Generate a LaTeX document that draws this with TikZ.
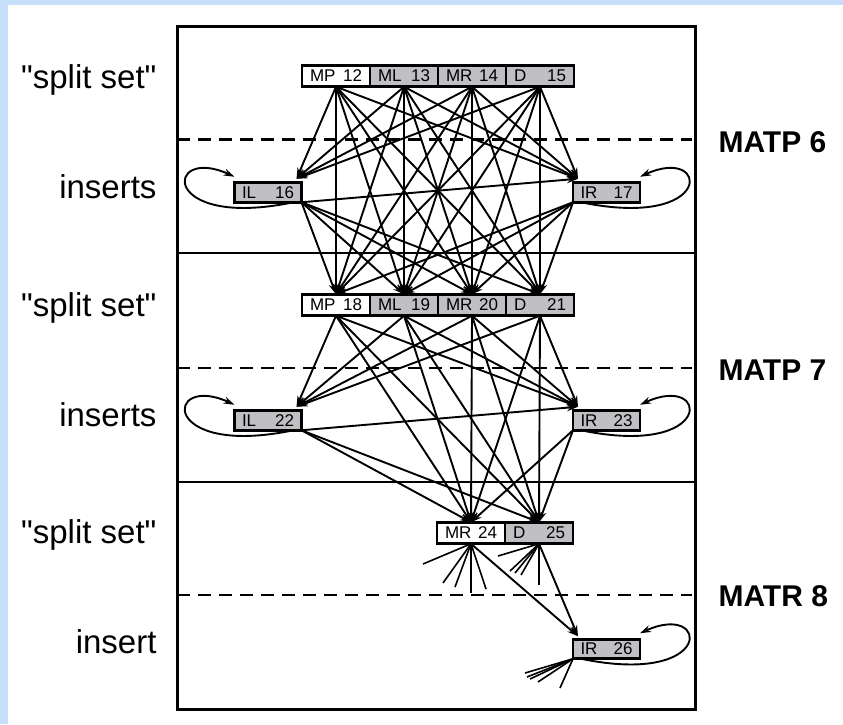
\documentclass[tikz,border=0pt]{standalone}
\usepackage{fontspec}
\setmainfont{Liberation Sans}[Ligatures=TeXOff]
\usetikzlibrary{arrows.meta,positioning}

\definecolor{stategray}{RGB}{192,192,196}
\definecolor{pageblue}{RGB}{198,224,252}

% state name on the left, state number on the right
\newcommand{\stlabel}[2]{\makebox[52pt]{#1\hfill#2}}

\tikzset{
  splitcell/.style={draw,line width=2.8pt,minimum width=68pt,minimum height=21.5pt,
    inner sep=0pt,outer sep=0pt,fill=stategray,font=\fontsize{17}{17}\selectfont},
  inscell/.style={splitcell,minimum width=67pt,minimum height=19.5pt},
  rowlabel/.style={anchor=base east,font=\fontsize{33}{33}\selectfont},
  nodelabel/.style={anchor=base west,font=\bfseries\fontsize{30}{30}\selectfont},
  divider/.style={line width=2.5pt},
  halfline/.style={line width=2.5pt,dash pattern=on 13pt off 8pt},
  selfloop/.style={line width=1.9pt,-{Stealth[length=11pt,width=7pt]}}
}

\begin{document}
\begin{tikzpicture}[x=1pt,y=-1pt]
  \fill[pageblue] (0,0) rectangle (843,724);
  \fill[white] (8,5) rectangle (843,724);
  \useasboundingbox (0,0) rectangle (843,724);

  % frame, node boundaries and split/insert boundaries
  \draw[line width=3pt] (177,26) rectangle (695,709);
  \draw[divider] (177,253) -- (695,253);
  \draw[divider] (177,482) -- (695,482);
  \draw[halfline] (177,139.5) -- (692,139.5);
  \draw[halfline] (177,368) -- (692,368);
  \draw[halfline] (177,595) -- (692,595);

  % row and node labels
  \node[rowlabel] (ss6) at (160,88) {"split set"};
  \node[rowlabel] (in6) at (160,198) {inserts};
  \node[rowlabel] (ss7) at (160,316) {"split set"};
  \node[rowlabel] (in7) at (160,426) {inserts};
  \node[rowlabel] (ss8) at (160,543) {"split set"};
  \node[rowlabel] (in8) at (160,653) {insert};
  \node[nodelabel] (matp6) at (715,152) {MATP 6};
  \node[nodelabel] (matp7) at (715,380) {MATP 7};
  \node[nodelabel] (matr8) at (715,606) {MATR 8};

  % states
  \begin{scope}[every node/.style={splitcell}]
    \node[fill=white] (MP12) at (336,76) {\stlabel{MP}{12}};
    \node[right=0pt of MP12] (ML13) {\stlabel{ML}{13}};
    \node[right=0pt of ML13] (MR14) {\stlabel{MR}{14}};
    \node[right=0pt of MR14] (D15) {\stlabel{D}{15}};

    \node[fill=white] (MP18) at (336,305) {\stlabel{MP}{18}};
    \node[right=0pt of MP18] (ML19) {\stlabel{ML}{19}};
    \node[right=0pt of ML19] (MR20) {\stlabel{MR}{20}};
    \node[right=0pt of MR20] (D21) {\stlabel{D}{21}};

    \node[fill=white] (MR24) at (471,533) {\stlabel{MR}{24}};
    \node[right=0pt of MR24] (D25) {\stlabel{D}{25}};
  \end{scope}

  \begin{scope}[every node/.style={inscell}]
    \node (IL16) at (268,192.5) {\stlabel{IL}{16}};
    \node (IR17) at (606.5,192.5) {\stlabel{IR}{17}};
    \node (IL22) at (268,420.5) {\stlabel{IL}{22}};
    \node (IR23) at (606.5,420.5) {\stlabel{IR}{23}};
    \node (IR26) at (606.5,649) {\stlabel{IR}{26}};
  \end{scope}

  % loose ends towards the next node
  \coordinate (MR24a) at (423,564);
  \coordinate (MR24b) at (443,583);
  \coordinate (MR24c) at (455,587);
  \coordinate (MR24d) at (471,593);
  \coordinate (MR24e) at (486,589);
  \coordinate (D25a) at (498,556);
  \coordinate (D25b) at (510,571);
  \coordinate (D25c) at (515,573);
  \coordinate (D25d) at (521,575);
  \coordinate (D25e) at (539,585);
  \coordinate (IR26a) at (525,673);
  \coordinate (IR26b) at (527,677);
  \coordinate (IR26c) at (530,679);
  \coordinate (IR26d) at (538,682);
  \coordinate (IR26e) at (560,688);

  \begin{scope}[every edge/.style={draw=black,line width=1.9pt}]
    % MATP 6
    \path [-{Stealth[length=11pt,width=7pt]}]
      (MP12.south) edge ([xshift=-5pt,yshift=4pt]IL16.north east)
                   edge ([xshift=5pt,yshift=4pt]IR17.north west)
                   edge (MP18.north) edge (ML19.north) edge (MR20.north) edge (D21.north)
      (ML13.south) edge ([xshift=-5pt,yshift=4pt]IL16.north east)
                   edge ([xshift=5pt,yshift=4pt]IR17.north west)
                   edge (MP18.north) edge (ML19.north) edge (MR20.north) edge (D21.north)
      (MR14.south) edge ([xshift=-5pt,yshift=4pt]IL16.north east)
                   edge ([xshift=5pt,yshift=4pt]IR17.north west)
                   edge (MP18.north) edge (ML19.north) edge (MR20.north) edge (D21.north)
      (D15.south)  edge ([xshift=-5pt,yshift=4pt]IL16.north east)
                   edge ([xshift=5pt,yshift=4pt]IR17.north west)
                   edge (MP18.north) edge (ML19.north) edge (MR20.north) edge (D21.north)
      (IL16.south east) edge ([xshift=5pt,yshift=4pt]IR17.north west)
                   edge (MP18.north) edge (ML19.north) edge (MR20.north) edge (D21.north)
      (IR17.south west) edge (MP18.north) edge (ML19.north) edge (MR20.north) edge (D21.north);

    % MATP 7
    \path [-{Stealth[length=11pt,width=7pt]}]
      (MP18.south) edge ([xshift=-5pt,yshift=4pt]IL22.north east)
                   edge ([xshift=5pt,yshift=4pt]IR23.north west)
                   edge (MR24.north) edge (D25.north)
      (ML19.south) edge ([xshift=-5pt,yshift=4pt]IL22.north east)
                   edge ([xshift=5pt,yshift=4pt]IR23.north west)
                   edge (MR24.north) edge (D25.north)
      (MR20.south) edge ([xshift=-5pt,yshift=4pt]IL22.north east)
                   edge ([xshift=5pt,yshift=4pt]IR23.north west)
                   edge (MR24.north) edge (D25.north)
      (D21.south)  edge ([xshift=-5pt,yshift=4pt]IL22.north east)
                   edge ([xshift=5pt,yshift=4pt]IR23.north west)
                   edge (MR24.north) edge (D25.north)
      (IL22.south east) edge ([xshift=5pt,yshift=4pt]IR23.north west)
                   edge (MR24.north) edge (D25.north)
      (IR23.south west) edge (MR24.north) edge (D25.north);

    % MATR 8
    \path [-{Stealth[length=11pt,width=7pt]}]
      (MR24.south) edge ([xshift=5pt,yshift=3pt]IR26.north west)
      (D25.south)  edge ([xshift=5pt,yshift=3pt]IR26.north west);
  \end{scope}

  \begin{scope}[every edge/.style={draw=black,line width=1.6pt}]
    \path (MR24.south) edge (MR24a) edge (MR24b) edge (MR24c) edge (MR24d) edge (MR24e);
    \path (D25.south) edge (D25a) edge (D25b) edge (D25c) edge (D25d) edge (D25e);
    \path (IR26.south west) edge (IR26a) edge (IR26b) edge (IR26c) edge (IR26d) edge (IR26e);
  \end{scope}

  % insert self-transitions
  \draw[selfloop] ([xshift=-8pt]IL16.south east) .. controls +(-135,28) and +(-70,-32) .. ([yshift=6pt]IL16.north west);
  \draw[selfloop] ([xshift=8pt]IR17.south west) .. controls +(135,28) and +(70,-32) .. ([yshift=6pt]IR17.north east);
  \draw[selfloop] ([xshift=-8pt]IL22.south east) .. controls +(-135,28) and +(-70,-32) .. ([yshift=6pt]IL22.north west);
  \draw[selfloop] ([xshift=8pt]IR23.south west) .. controls +(135,28) and +(70,-32) .. ([yshift=6pt]IR23.north east);
  \draw[selfloop] ([xshift=8pt]IR26.south west) .. controls +(135,28) and +(70,-32) .. ([yshift=6pt]IR26.north east);
\end{tikzpicture}
\end{document}
